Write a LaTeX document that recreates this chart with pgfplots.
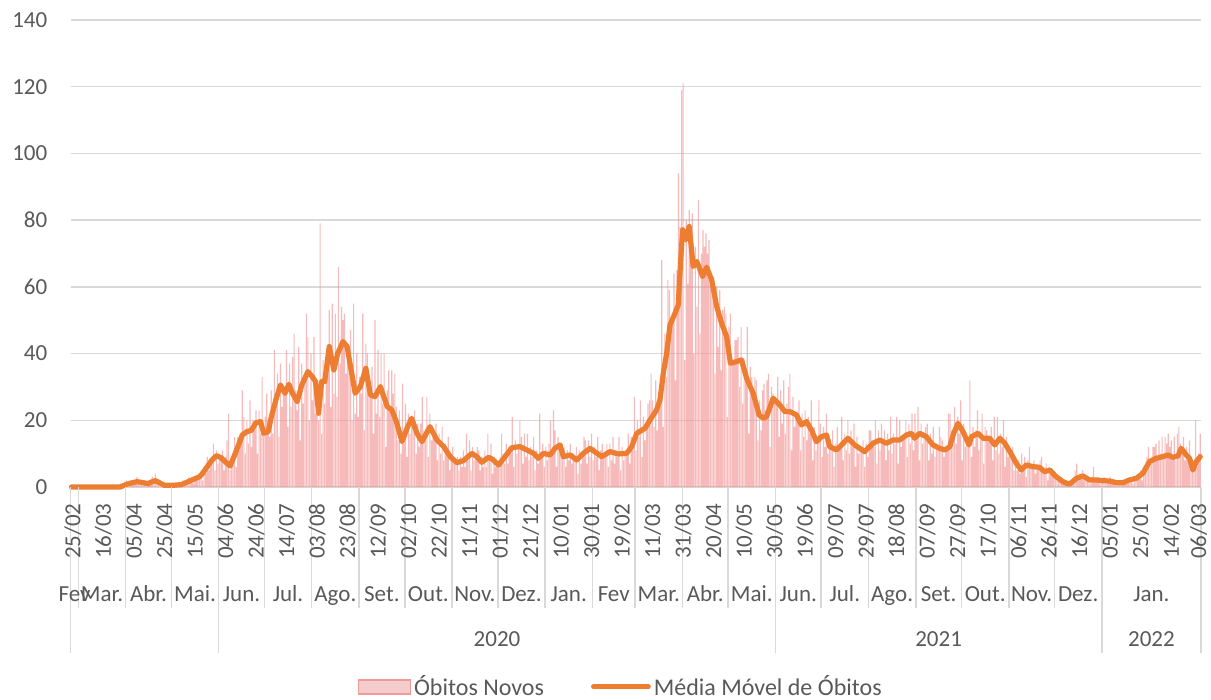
\documentclass[border=0pt]{standalone}
\usepackage{pgfplots}
\pgfplotsset{compat=1.18}
\usepackage{fontspec}
\setmainfont{Carlito}
\definecolor{tickgray}{HTML}{595959}
\definecolor{gridgray}{HTML}{D9D9D9}
\definecolor{barbase}{HTML}{F28C8C}
\definecolor{legfill}{HTML}{F4CCCC}
\definecolor{legdraw}{HTML}{F09A9A}
\definecolor{maorange}{HTML}{ED7D31}
\newcommand{\lblfont}{\fontsize{11.5}{13.8}\selectfont}
\tikzset{
  mlab/.style={anchor=base, yshift=-57.3pt, font=\lblfont, text=tickgray, inner sep=0pt},
  ylab/.style={anchor=base, yshift=-79.8pt, font=\lblfont, text=tickgray, inner sep=0pt},
  dlab/.style={rotate=90, anchor=east, inner sep=0pt, font=\lblfont, text=tickgray},
  sepl/.style={gridgray, line width=0.75pt},
}
\begin{document}
\begin{tikzpicture}
\useasboundingbox (0,0) rectangle (605.5pt,-350pt);
\begin{axis}[
  at={(35.35pt,-243.5pt)}, anchor=south west,
  scale only axis, width=565.15pt, height=233.5pt,
  xmin=-0.5, xmax=740.5, ymin=0, ymax=140,
  ytick={0,20,...,140},
  xtick=\empty,
  major tick length=0pt,
  ymajorgrids, grid style={gridgray, line width=0.75pt},
  axis x line*=bottom, axis y line*=left,
  x axis line style={gridgray, line width=0.75pt, -},
  y axis line style={draw=none},
  yticklabel style={anchor=east, inner sep=0pt, font=\lblfont, text=tickgray},
  yticklabel shift=11.5pt,
  /pgf/number format/assume math mode=true,
  clip=false,
  legend columns=2,
  legend cell align=left,
  legend style={at={(axis description cs:0.487,-0.428)}, anchor=center, draw=none, fill=none, inner sep=0pt,
    nodes={inner sep=1.5pt, font=\fontsize{12}{14}\selectfont, text=tickgray},
    /tikz/every even column/.append style={column sep=22pt}},
]
\addplot[ybar, bar width=0.75, bar shift=0pt, draw=none, fill=barbase, fill opacity=0.6,
  legend image code/.code={\draw[fill=legfill, draw=legdraw, line width=0.75pt, fill opacity=1] (0pt,-3.5pt) rectangle (26pt,3.5pt);}]
  table[x expr=\coordindex, y index=0, row sep=\\] {
v\\
0\\0\\0\\0\\0\\0\\0\\0\\0\\0\\0\\0\\0\\0\\0\\0\\0\\0\\0\\0\\
0\\0\\0\\0\\0\\0\\0\\0\\0\\0\\0\\0\\1\\0\\1\\0\\2\\1\\0\\2\\
1\\2\\1\\3\\1\\2\\1\\1\\2\\0\\1\\2\\1\\3\\2\\4\\1\\2\\0\\1\\
1\\0\\0\\1\\0\\1\\0\\1\\0\\1\\1\\0\\1\\2\\1\\2\\1\\3\\2\\2\\
1\\3\\2\\3\\3\\5\\2\\6\\4\\9\\5\\8\\7\\13\\5\\11\\7\\9\\9\\11\\
5\\9\\14\\22\\5\\8\\8\\15\\6\\15\\11\\15\\29\\21\\10\\20\\13\\26\\12\\20\\
17\\23\\10\\23\\16\\33\\16\\21\\28\\20\\15\\29\\16\\41\\24\\34\\15\\37\\24\\29\\
28\\41\\18\\37\\24\\39\\46\\29\\23\\42\\14\\37\\25\\33\\52\\45\\20\\40\\26\\45\\
22\\29\\20\\79\\16\\38\\25\\35\\39\\53\\24\\55\\28\\52\\27\\66\\37\\54\\50\\52\\
34\\41\\38\\47\\20\\55\\22\\40\\21\\33\\28\\52\\17\\43\\40\\30\\28\\36\\16\\50\\
22\\41\\21\\40\\25\\40\\12\\29\\35\\23\\35\\28\\34\\24\\14\\23\\10\\31\\13\\25\\
9\\22\\16\\21\\19\\23\\10\\19\\12\\19\\27\\17\\14\\27\\9\\22\\14\\16\\16\\19\\
8\\16\\10\\18\\8\\13\\10\\15\\5\\10\\12\\8\\7\\9\\5\\9\\6\\11\\6\\16\\
8\\14\\5\\12\\8\\10\\12\\11\\5\\9\\6\\11\\6\\16\\8\\13\\4\\9\\6\\7\\
7\\9\\16\\10\\7\\13\\7\\12\\10\\21\\6\\14\\10\\12\\20\\15\\7\\16\\9\\16\\
8\\12\\9\\15\\5\\11\\7\\22\\10\\13\\6\\12\\8\\13\\20\\11\\23\\17\\6\\15\\
13\\11\\10\\12\\6\\11\\8\\13\\7\\10\\8\\12\\4\\11\\7\\10\\15\\14\\7\\14\\
9\\16\\8\\12\\9\\15\\5\\11\\13\\9\\10\\13\\6\\13\\8\\15\\7\\11\\9\\15\\
5\\12\\8\\10\\10\\16\\7\\15\\11\\27\\11\\20\\15\\26\\9\\21\\14\\18\\25\\26\\
34\\26\\18\\32\\17\\28\\25\\68\\18\\46\\33\\62\\59\\50\\51\\64\\32\\65\\94\\78\\
119\\121\\38\\80\\61\\83\\73\\82\\40\\72\\54\\86\\46\\70\\77\\72\\76\\70\\74\\62\\
61\\63\\34\\60\\42\\59\\35\\53\\54\\52\\21\\48\\52\\37\\37\\44\\44\\45\\30\\48\\
25\\38\\35\\48\\16\\36\\33\\28\\33\\32\\14\\26\\17\\29\\31\\23\\32\\34\\12\\30\\
28\\26\\26\\33\\15\\29\\19\\32\\16\\25\\30\\34\\11\\27\\18\\22\\21\\26\\11\\22\\
15\\23\\14\\21\\16\\26\\8\\18\\11\\14\\26\\19\\9\\18\\12\\22\\10\\14\\11\\17\\
6\\13\\18\\12\\12\\21\\8\\16\\11\\20\\10\\17\\12\\19\\6\\15\\10\\12\\11\\14\\
6\\13\\9\\17\\17\\14\\12\\20\\7\\17\\11\\19\\14\\17\\8\\16\\11\\21\\10\\16\\
13\\21\\7\\20\\12\\15\\15\\20\\9\\19\\13\\22\\11\\22\\14\\24\\8\\19\\13\\16\\
18\\19\\8\\16\\10\\18\\9\\13\\11\\18\\15\\14\\9\\11\\12\\22\\22\\17\\13\\24\\
13\\21\\16\\26\\8\\19\\12\\14\\13\\32\\9\\18\\12\\17\\23\\11\\14\\22\\7\\18\\
17\\15\\15\\18\\8\\21\\11\\21\\10\\16\\12\\20\\6\\15\\9\\11\\10\\12\\5\\9\\
5\\8\\4\\10\\5\\9\\3\\8\\12\\6\\6\\8\\4\\7\\5\\8\\9\\5\\4\\7\\
2\\6\\4\\4\\4\\4\\2\\3\\2\\3\\1\\2\\1\\1\\0\\1\\1\\2\\5\\7\\
2\\4\\3\\5\\2\\3\\2\\3\\1\\3\\6\\2\\2\\3\\1\\2\\2\\3\\1\\2\\
2\\3\\1\\2\\1\\1\\1\\2\\1\\2\\1\\2\\1\\2\\2\\3\\1\\3\\2\\3\\
3\\5\\2\\6\\5\\9\\12\\8\\7\\12\\12\\13\\8\\14\\10\\15\\9\\15\\13\\16\\
12\\14\\9\\15\\8\\16\\18\\13\\11\\15\\8\\12\\10\\14\\6\\5\\8\\20\\6\\10\\
16\\
};
\addlegendentry{Óbitos Novos}
\addplot[maorange, line width=2.6pt, line join=round, line cap=round, mark=none,
  legend image code/.code={\draw[maorange, line width=2.4pt] (0pt,0pt) -- (27.5pt,0pt);}]
  coordinates {
(0,0)(32,0)(36,0.8)(40,1.3)(43,1.6)(47,1.3)(50,1.0)(53,1.6)(55,1.9)(58,1.2)(61,0.5)(66,0.5)(72,0.7)(76,1.5)(80,2.3)(84,3.1)(86,4.1)(89,6.1)(92,8.0)(95,9.4)(98,8.8)(101,7.5)(104,6.3)(106,8.5)(108.7,11.6)(112,15.6)(115,16.6)(118,17)(121,19.3)(124,19.6)(126,16.1)(129,16.6)(131,21)(134,26.1)(137,30.6)(140,28.1)(142.5,30.8)(145,28)(148,25.6)(151,30.6)(155,34.6)(158,33)(160,31.6)(162,22.1)(164,31.6)(166,31.6)(169,42.1)(172,35.1)(174.6,40.1)(178,43.6)(180.7,42.1)(183,36)(186,28.1)(189.4,30.1)(193,35.6)(196,27.6)(199,27.1)(202.5,30.1)(207,24.1)(210,23.1)(213,19.6)(216.7,13.6)(220,17.6)(223,20.6)(226.5,16.1)(229.8,13.6)(235,18.1)(239.6,14.1)(244,12.1)(248.3,9.1)(252.7,7.3)(257,7.9)(262.5,10.1)(265.8,9.1)(269,7.4)(273.4,8.9)(276,8.3)(280,6.6)(284.3,9.1)(288.7,11.8)(294,12.1)(298.5,11.1)(302.9,10.1)(306,8.6)(309.4,10.1)(313.8,9.6)(317,11.6)(320.3,12.6)(322.5,9.1)(327,9.6)(331.3,8.1)(335.6,10.1)(340,11.6)(343,10.6)(347.6,9.1)(353,10.6)(358.5,9.9)(364,10.1)(367.3,12.1)(370.6,16.1)(376,17.6)(379.3,20.1)(383.6,23.1)(385.8,26.1)(388,34.1)(390.2,40.1)(392.4,48.6)(395.7,52.1)(397.8,54.6)(399.4,68.1)(400.7,77.1)(402.8,74.1)(405,78.1)(407.6,66.1)(410,67.6)(413.8,63.1)(416.4,65.9)(419.7,62.1)(423,54.1)(426.2,49.1)(429.5,45.1)(432,37.1)(436,37.6)(439.3,38.1)(442.6,32.6)(446.9,28.1)(450.8,21.6)(453.5,20.6)(455.7,21.1)(460,26.6)(464.4,24.6)(467.7,22.6)(471,22.6)(475.3,21.6)(478.6,18.6)(481.9,19.6)(485.1,17.1)(488.4,13.6)(491.7,15.1)(495,15.6)(497.1,12.1)(501.5,11.1)(504.8,12.6)(509,14.6)(513.5,12.6)(516.8,11.6)(520,10.6)(522.2,11.6)(525.5,13.1)(529.9,14.1)(534.3,13.1)(538.6,14.1)(543,14.1)(547.4,15.6)(550.6,16.1)(552.8,14.6)(556,16.1)(560.4,15.1)(564.8,12.6)(569.1,11.6)(572.5,11.1)(575.8,12.1)(578.4,16.1)(581.2,19.1)(584.5,16.6)(588.4,12.6)(590,15.1)(594.4,16.1)(597.6,14.6)(602,14.6)(605.3,12.6)(608.6,14.6)(611.9,13.1)(615.2,10.6)(619.4,7.1)(622.7,5.1)(626,6.6)(630.4,6.1)(634.6,5.9)(638,4.6)(641.4,5.1)(645.5,3.1)(650,1.6)(654.3,0.8)(658.8,2.6)(663,3.3)(667.5,2.1)(671.8,2.1)(676.2,1.9)(680.6,1.8)(685,1.3)(689.4,1.3)(693.5,2.1)(698,2.6)(702.4,4.1)(706.7,7.6)(711.1,8.6)(715.5,9.1)(718.8,9.6)(722,8.9)(725.4,9.3)(727.5,11.6)(730.8,9.6)(733,8.6)(735.2,5.1)(737.4,7.6)(740,9.1)
};
\addlegendentry{Média Móvel de Óbitos}
\pgfplotsinvokeforeach{4.5,35.5,65.5,126.5,157.5,188.5,218.5,249.5,279.5,310.5,341.5,369.5,400.5,430.5,491.5,522.5,553.5,583.5,614.5,644.5}{\draw[sepl] (axis cs:#1,0) -- ++(0pt,-60.5pt);}
\pgfplotsinvokeforeach{-0.5,96.5,461.5,675.5,740.5}{\draw[sepl] (axis cs:#1,0) -- ++(0pt,-83pt);}
\path (axis cs:1,0) ++(0pt,-8pt) node[dlab] {25/02};
\path (axis cs:21,0) ++(0pt,-8pt) node[dlab] {16/03};
\path (axis cs:41,0) ++(0pt,-8pt) node[dlab] {05/04};
\path (axis cs:61,0) ++(0pt,-8pt) node[dlab] {25/04};
\path (axis cs:81,0) ++(0pt,-8pt) node[dlab] {15/05};
\path (axis cs:101,0) ++(0pt,-8pt) node[dlab] {04/06};
\path (axis cs:121,0) ++(0pt,-8pt) node[dlab] {24/06};
\path (axis cs:141,0) ++(0pt,-8pt) node[dlab] {14/07};
\path (axis cs:161,0) ++(0pt,-8pt) node[dlab] {03/08};
\path (axis cs:181,0) ++(0pt,-8pt) node[dlab] {23/08};
\path (axis cs:201,0) ++(0pt,-8pt) node[dlab] {12/09};
\path (axis cs:221,0) ++(0pt,-8pt) node[dlab] {02/10};
\path (axis cs:241,0) ++(0pt,-8pt) node[dlab] {22/10};
\path (axis cs:261,0) ++(0pt,-8pt) node[dlab] {11/11};
\path (axis cs:281,0) ++(0pt,-8pt) node[dlab] {01/12};
\path (axis cs:301,0) ++(0pt,-8pt) node[dlab] {21/12};
\path (axis cs:321,0) ++(0pt,-8pt) node[dlab] {10/01};
\path (axis cs:341,0) ++(0pt,-8pt) node[dlab] {30/01};
\path (axis cs:361,0) ++(0pt,-8pt) node[dlab] {19/02};
\path (axis cs:381,0) ++(0pt,-8pt) node[dlab] {11/03};
\path (axis cs:401,0) ++(0pt,-8pt) node[dlab] {31/03};
\path (axis cs:421,0) ++(0pt,-8pt) node[dlab] {20/04};
\path (axis cs:441,0) ++(0pt,-8pt) node[dlab] {10/05};
\path (axis cs:461,0) ++(0pt,-8pt) node[dlab] {30/05};
\path (axis cs:481,0) ++(0pt,-8pt) node[dlab] {19/06};
\path (axis cs:501,0) ++(0pt,-8pt) node[dlab] {09/07};
\path (axis cs:521,0) ++(0pt,-8pt) node[dlab] {29/07};
\path (axis cs:541,0) ++(0pt,-8pt) node[dlab] {18/08};
\path (axis cs:561,0) ++(0pt,-8pt) node[dlab] {07/09};
\path (axis cs:581,0) ++(0pt,-8pt) node[dlab] {27/09};
\path (axis cs:601,0) ++(0pt,-8pt) node[dlab] {17/10};
\path (axis cs:621,0) ++(0pt,-8pt) node[dlab] {06/11};
\path (axis cs:641,0) ++(0pt,-8pt) node[dlab] {26/11};
\path (axis cs:661,0) ++(0pt,-8pt) node[dlab] {16/12};
\path (axis cs:681,0) ++(0pt,-8pt) node[dlab] {05/01};
\path (axis cs:701,0) ++(0pt,-8pt) node[dlab] {25/01};
\path (axis cs:721,0) ++(0pt,-8pt) node[dlab] {14/02};
\path (axis cs:739,0) ++(0pt,-8pt) node[dlab] {06/03};
\node[mlab] at (axis cs:2,0) {Fev};
\node[mlab] at (axis cs:20,0) {Mar.};
\node[mlab] at (axis cs:50.5,0) {Abr.};
\node[mlab] at (axis cs:81,0) {Mai.};
\node[mlab] at (axis cs:111.5,0) {Jun.};
\node[mlab] at (axis cs:142,0) {Jul.};
\node[mlab] at (axis cs:173,0) {Ago.};
\node[mlab] at (axis cs:203.5,0) {Set.};
\node[mlab] at (axis cs:234,0) {Out.};
\node[mlab] at (axis cs:264.5,0) {Nov.};
\node[mlab] at (axis cs:295,0) {Dez.};
\node[mlab] at (axis cs:326,0) {Jan.};
\node[mlab] at (axis cs:355.5,0) {Fev};
\node[mlab] at (axis cs:385,0) {Mar.};
\node[mlab] at (axis cs:415.5,0) {Abr.};
\node[mlab] at (axis cs:446,0) {Mai.};
\node[mlab] at (axis cs:476.5,0) {Jun.};
\node[mlab] at (axis cs:507,0) {Jul.};
\node[mlab] at (axis cs:538,0) {Ago.};
\node[mlab] at (axis cs:568.5,0) {Set.};
\node[mlab] at (axis cs:599,0) {Out.};
\node[mlab] at (axis cs:629.5,0) {Nov.};
\node[mlab] at (axis cs:660,0) {Dez.};
\node[mlab] at (axis cs:708,0) {Jan.};
\node[ylab] at (axis cs:279,0) {2020};
\node[ylab] at (axis cs:568.5,0) {2021};
\node[ylab] at (axis cs:708,0) {2022};
\end{axis}
\end{tikzpicture}
\end{document}
